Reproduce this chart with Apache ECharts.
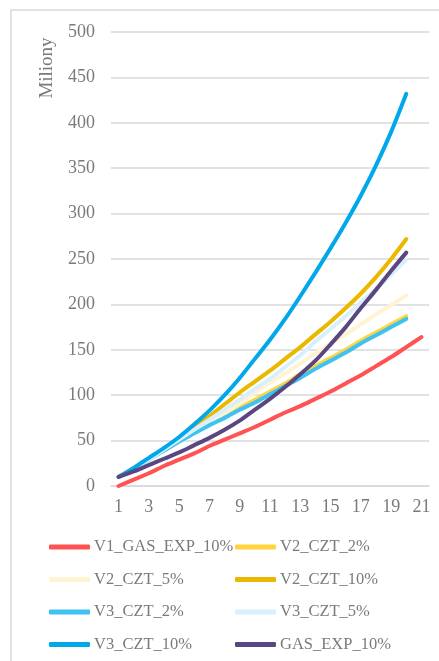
<!DOCTYPE html>
<html>
<head>
<meta charset="utf-8">
<script src="https://cdn.jsdelivr.net/npm/echarts@6/dist/echarts.min.js"></script>
<style>
  html, body { margin: 0; padding: 0; background: #fff; }
  #chart { width: 439px; height: 661px; }
</style>
</head>
<body>
<div id="chart"></div>
<script>
// roky 1..21
const categories = ['1', '2', '3', '4', '5', '6', '7', '8', '9', '10', '11', '12', '13', '14', '15', '16', '17', '18', '19', '20', '21']

const v1GasExp10 = [0, 7, 14, 22, 29, 36, 44, 51, 58, 65, 73, 81, 88, 96, 104, 113, 122, 132, 142, 153, 164]
const v2Czt2 = [10, 19, 29, 39, 49, 59, 68, 77, 86, 95, 104, 113, 123, 132, 141, 150, 160, 169, 178, 187]
const v2Czt5 = [10, 19, 29, 40, 50, 60, 70, 80, 91, 103, 114, 124, 135, 146, 157, 167, 178, 189, 199, 210]
const v2Czt10 = [10, 19, 30, 41, 53, 65, 77, 90, 103, 115, 127, 140, 153, 167, 181, 196, 212, 230, 250, 272]
const v3Czt2 = [10, 19, 29, 39, 49, 58, 67, 75, 84, 92, 101, 110, 119, 129, 138, 147, 157, 166, 175, 184]
const v3Czt5 = [10, 19, 29, 40, 51, 62, 73, 84, 95, 107, 118, 131, 144, 159, 173, 187, 202, 217, 233, 249]
const v3Czt10 = [10, 20, 31, 42, 54, 68, 83, 100, 119, 140, 161, 184, 209, 235, 262, 290, 320, 353, 390, 432]
const gasExp10 = [10, 16, 23, 30, 37, 45, 53, 62, 72, 84, 96, 109, 123, 138, 156, 175, 196, 216, 237, 257]

const seriesNames = ['V1_GAS_EXP_10%', 'V2_CZT_2%', 'V2_CZT_5%', 'V2_CZT_10%', 'V3_CZT_2%', 'V3_CZT_5%', 'V3_CZT_10%', 'GAS_EXP_10%']
const seriesData = [v1GasExp10, v2Czt2, v2Czt5, v2Czt10, v3Czt2, v3Czt5, v3Czt10, gasExp10]
const colors = ['#ff5252', '#ffd43f', '#fff3d3', '#ebb800', '#3ec1f3', '#d9f0fc', '#00a8ea', '#5a4681']

const textColor = '#7a7a7a'
const font = 'Liberation Serif'

const chart = echarts.init(document.getElementById('chart'))

const legendBase = {
  orient: 'vertical',
  top: 538,
  padding: 0,
  itemGap: 14.5,
  itemWidth: 41,
  itemHeight: 5,
  icon: 'roundRect',
  textStyle: { color: textColor, fontFamily: font, fontSize: 16.5, lineHeight: 18, padding: [0, 0, 0, -1] }
}

chart.setOption({
  animation: false,
  color: colors,
  graphic: [
    {
      type: 'rect',
      shape: { x: 11, y: 10, width: 600, height: 800 },
      style: { fill: 'none', stroke: '#d9d9d9', lineWidth: 1.5 },
      silent: true
    },
    {
      type: 'text',
      x: 47,
      y: 68,
      rotation: Math.PI / 2,
      style: {
        text: 'Miliony',
        fill: textColor,
        font: '19px "Liberation Serif"',
        align: 'center',
        verticalAlign: 'middle'
      }
    }
  ],
  grid: {
    left: 111,
    right: 10,
    top: 32,
    bottom: 175,
    containLabel: false
  },
  legend: [
    Object.assign({}, legendBase, { left: 49, data: [seriesNames[0], seriesNames[2], seriesNames[4], seriesNames[6]] }),
    Object.assign({}, legendBase, { left: 235, data: [seriesNames[1], seriesNames[3], seriesNames[5], seriesNames[7]] })
  ],
  xAxis: {
    type: 'category',
    data: categories,
    boundaryGap: true,
    axisLine: { lineStyle: { color: '#d9d9d9', width: 1.5 } },
    axisTick: { show: false },
    axisLabel: {
      interval: 1,
      color: textColor,
      fontFamily: font,
      fontSize: 18,
      margin: 12
    }
  },
  yAxis: {
    type: 'value',
    min: 0,
    max: 500,
    interval: 50,
    axisLine: { show: false },
    axisTick: { show: false },
    splitLine: { lineStyle: { color: '#d9d9d9', width: 1.5 } },
    axisLabel: {
      color: textColor,
      fontFamily: font,
      fontSize: 18,
      margin: 16
    }
  },
  series: seriesNames.map((name, i) => ({
    name: name,
    type: 'line',
    data: seriesData[i],
    smooth: 0.3,
    showSymbol: false,
    symbol: 'none',
    lineStyle: { width: 4, color: colors[i], cap: 'round' },
    itemStyle: { color: colors[i] }
  }))
})
</script>
</body>
</html>
